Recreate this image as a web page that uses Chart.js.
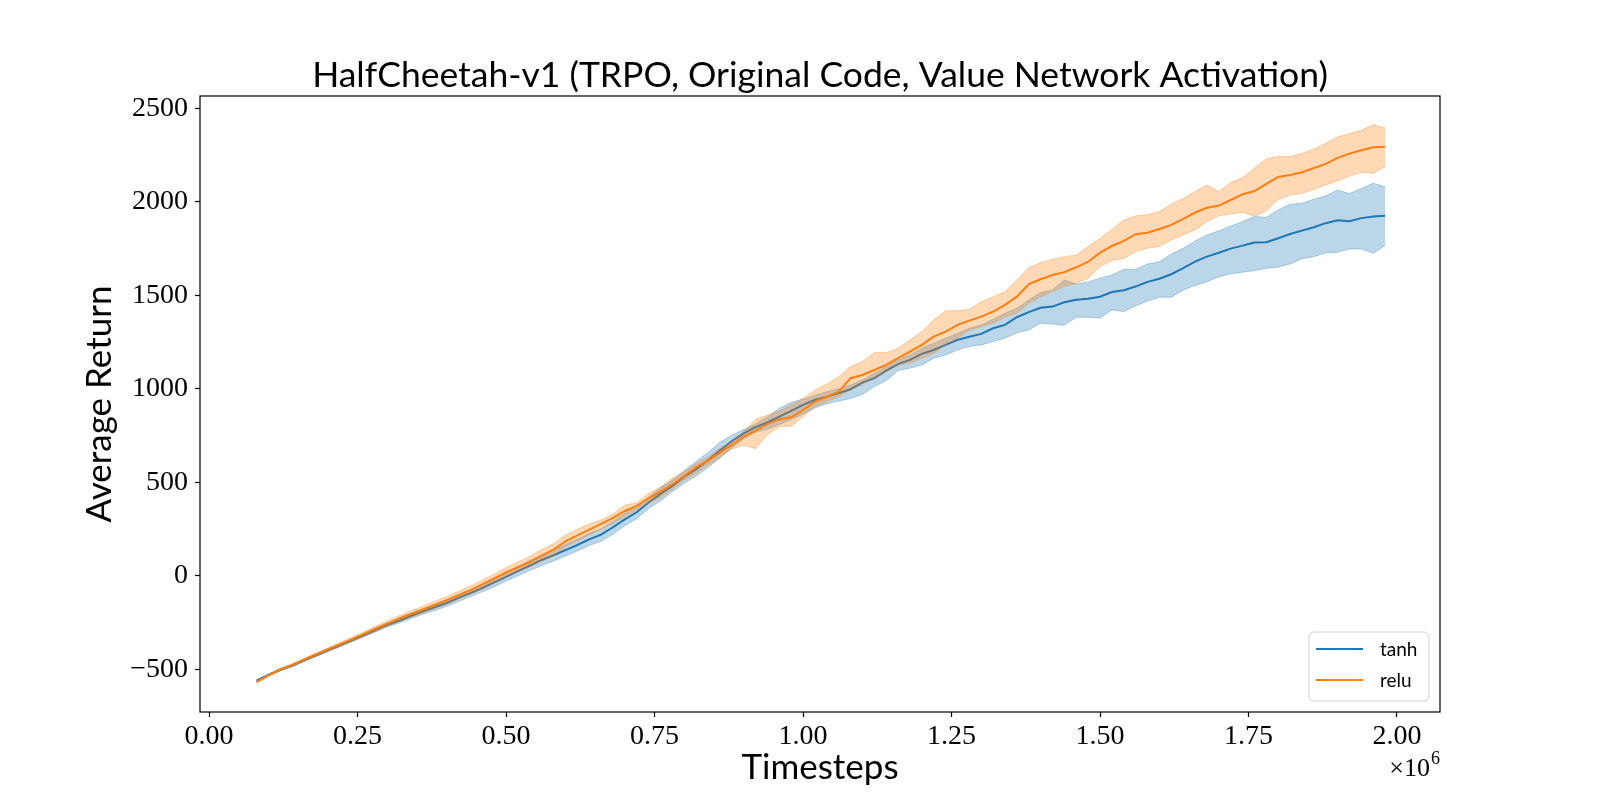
<!DOCTYPE html>
<html>
<head>
<meta charset="utf-8">
<title>HalfCheetah-v1 (TRPO, Original Code, Value Network Activation)</title>
<script src="https://cdn.jsdelivr.net/npm/chart.js@4.4.1/dist/chart.umd.min.js"></script>
<style>
  html, body { margin: 0; padding: 0; background: #fff; }
  #wrap { width: 1600px; height: 800px; }
</style>
</head>
<body>
<div id="wrap"><canvas id="chart" width="1600" height="800"></canvas></div>
<script>
// timesteps, in units of 1e6
const steps = [
  0.08, 0.10, 0.12, 0.14, 0.16, 0.18, 0.20, 0.22, 0.24, 0.26,
  0.28, 0.30, 0.32, 0.34, 0.36, 0.38, 0.40, 0.42, 0.44, 0.46,
  0.48, 0.50, 0.52, 0.54, 0.56, 0.58, 0.60, 0.62, 0.64, 0.66,
  0.68, 0.70, 0.72, 0.74, 0.76, 0.78, 0.80, 0.82, 0.84, 0.86,
  0.88, 0.90, 0.92, 0.94, 0.96, 0.98, 1.00, 1.02, 1.04, 1.06,
  1.08, 1.10, 1.12, 1.14, 1.16, 1.18, 1.20, 1.22, 1.24, 1.26,
  1.28, 1.30, 1.32, 1.34, 1.36, 1.38, 1.40, 1.42, 1.44, 1.46,
  1.48, 1.50, 1.52, 1.54, 1.56, 1.58, 1.60, 1.62, 1.64, 1.66,
  1.68, 1.70, 1.72, 1.74, 1.76, 1.78, 1.80, 1.82, 1.84, 1.86,
  1.88, 1.90, 1.92, 1.94, 1.96, 1.98
];

const tanhMean = [
  -560, -530, -502, -480, -452, -425, -398, -372, -345, -318,
  -290, -262, -240, -214, -190, -168, -145, -118, -92, -65,
  -35, -5, 25, 55, 85, 110, 138, 165, 195, 220,
  260, 302, 340, 392, 438, 481, 530, 570, 618, 670,
  720, 762, 795, 820, 852, 882, 914, 941, 958, 977,
  998, 1033, 1057, 1097, 1132, 1155, 1187, 1208, 1235, 1262,
  1279, 1294, 1324, 1342, 1383, 1410, 1434, 1440, 1463, 1476,
  1482, 1493, 1518, 1527, 1547, 1572, 1589, 1613, 1645, 1680,
  1707, 1728, 1750, 1766, 1782, 1784, 1805, 1828, 1846, 1864,
  1886, 1902, 1896, 1913, 1921, 1926
];
const tanhHigh = [
  -556, -525, -496, -473, -445, -418, -390, -364, -337, -309,
  -281, -252, -229, -201, -176, -152, -128, -100, -74, -46,
  -15, 16, 48, 82, 112, 138, 168, 196, 226, 252,
  292, 335, 375, 422, 472, 512, 563, 612, 660, 714,
  752, 782, 812, 850, 895, 928, 945, 965, 985, 1000,
  1020, 1048, 1083, 1119, 1155, 1181, 1217, 1244, 1271, 1297,
  1324, 1342, 1372, 1404, 1431, 1475, 1515, 1529, 1582, 1561,
  1572, 1592, 1609, 1640, 1640, 1668, 1680, 1721, 1752, 1791,
  1823, 1845, 1871, 1894, 1921, 1918, 1957, 1987, 1993, 2014,
  2032, 2064, 2044, 2072, 2100, 2081
];
const tanhLow = [
  -564, -535, -508, -487, -459, -432, -406, -380, -354, -327,
  -300, -273, -252, -228, -205, -185, -163, -137, -111, -85,
  -58, -28, 0, 28, 55, 80, 106, 133, 162, 185,
  222, 268, 306, 360, 402, 450, 495, 534, 580, 630,
  684, 732, 768, 785, 808, 836, 866, 898, 920, 935,
  948, 970, 1012, 1044, 1098, 1110, 1128, 1164, 1181, 1208,
  1226, 1235, 1253, 1271, 1300, 1315, 1351, 1347, 1340, 1383,
  1383, 1379, 1422, 1413, 1443, 1470, 1490, 1490, 1529, 1552,
  1573, 1600, 1615, 1624, 1632, 1645, 1650, 1668, 1696, 1707,
  1728, 1730, 1748, 1748, 1725, 1766
];

const reluMean = [
  -568, -532, -500, -476, -448, -420, -393, -366, -340, -312,
  -283, -255, -228, -204, -180, -155, -130, -103, -76, -45,
  -14, 18, 46, 74, 108, 140, 185, 217, 247, 278,
  310, 347, 374, 415, 450, 490, 534, 581, 616, 659,
  700, 744, 777, 813, 838, 848, 887, 932, 958, 985,
  1057, 1074, 1101, 1128, 1164, 1199, 1235, 1279, 1306, 1342,
  1365, 1386, 1413, 1449, 1493, 1560, 1586, 1609, 1624, 1650,
  1680, 1728, 1764, 1791, 1827, 1835, 1855, 1877, 1909, 1943,
  1968, 1980, 2010, 2041, 2058, 2096, 2133, 2144, 2158, 2181,
  2203, 2235, 2258, 2276, 2292, 2295
];
const reluHigh = [
  -563, -527, -494, -470, -441, -412, -384, -356, -329, -300,
  -270, -241, -213, -187, -162, -136, -110, -82, -54, -22,
  10, 45, 74, 105, 142, 172, 219, 249, 278, 299,
  332, 379, 391, 442, 474, 522, 557, 602, 634, 682,
  718, 771, 837, 860, 880, 914, 950, 994, 1026, 1065,
  1119, 1146, 1194, 1194, 1217, 1262, 1306, 1369, 1418, 1418,
  1426, 1466, 1493, 1520, 1582, 1648, 1675, 1693, 1707, 1716,
  1761, 1805, 1854, 1903, 1925, 1932, 1948, 1989, 2019, 2055,
  2090, 2055, 2103, 2130, 2180, 2231, 2242, 2242, 2260, 2283,
  2313, 2348, 2365, 2383, 2413, 2395
];
const reluLow = [
  -573, -537, -506, -482, -455, -428, -402, -376, -351, -324,
  -296, -269, -243, -221, -198, -174, -150, -124, -98, -68,
  -38, -6, 22, 48, 78, 108, 156, 188, 219, 249,
  281, 317, 352, 391, 420, 463, 513, 549, 593, 634,
  677, 700, 680, 755, 798, 800, 851, 905, 932, 958,
  994, 1026, 1057, 1092, 1128, 1137, 1164, 1190, 1235, 1271,
  1315, 1333, 1351, 1383, 1404, 1458, 1493, 1520, 1547, 1565,
  1592, 1654, 1686, 1696, 1734, 1752, 1761, 1796, 1823, 1850,
  1894, 1925, 1935, 1945, 1922, 1952, 2012, 2035, 2044, 2066,
  2091, 2111, 2138, 2158, 2153, 2188
];

const xTicks = [0, 0.25, 0.5, 0.75, 1.0, 1.25, 1.5, 1.75, 2.0];
const yTicks = [-500, 0, 500, 1000, 1500, 2000, 2500];

const BLUE = "#1f77b4";
const ORANGE = "#ff7f0e";
const SERIF = "'Liberation Serif', 'DejaVu Serif', serif";
const SANS = "Lato, 'Open Sans', 'DejaVu Sans', sans-serif";

const pts = arr => steps.map((t, i) => ({ x: t, y: arr[i] }));

function rgba(hex, a) {
  const n = parseInt(hex.slice(1), 16);
  return `rgba(${(n >> 16) & 255}, ${(n >> 8) & 255}, ${n & 255}, ${a})`;
}

function band(arr, color, fill) {
  return {
    data: pts(arr),
    borderColor: rgba(color, 0.3),
    borderWidth: 1,
    backgroundColor: rgba(color, 0.3),
    pointRadius: 0,
    fill: fill
  };
}

function meanLine(label, arr, color) {
  return {
    label: label,
    data: pts(arr),
    borderColor: color,
    borderWidth: 2,
    pointRadius: 0,
    fill: false
  };
}

// first dataset is drawn last (on top)
const datasets = [
  band(reluHigh, ORANGE, "+1"),
  band(reluLow, ORANGE, false),
  meanLine("relu", reluMean, ORANGE),
  band(tanhHigh, BLUE, "+1"),
  band(tanhLow, BLUE, false),
  meanLine("tanh", tanhMean, BLUE)
];

const decorations = {
  id: "decorations",
  afterDraw(chart) {
    const { ctx, chartArea: a } = chart;
    ctx.save();

    // axes frame
    ctx.strokeStyle = "#000";
    ctx.lineWidth = 1.2;
    ctx.strokeRect(a.left, a.top, a.right - a.left, a.bottom - a.top);

    // title and axis labels
    ctx.fillStyle = "#000";
    ctx.font = `35.5px ${SANS}`;
    ctx.textAlign = "center";
    ctx.textBaseline = "alphabetic";
    ctx.fillText("HalfCheetah-v1 (TRPO, Original Code, Value Network Activation)", (a.left + a.right) / 2, 87);
    ctx.font = `35px ${SANS}`;
    ctx.fillText("Timesteps", (a.left + a.right) / 2, 779);

    ctx.save();
    ctx.translate(111, (a.top + a.bottom) / 2);
    ctx.rotate(-Math.PI / 2);
    ctx.fillText("Average Return", 0, 0);
    ctx.restore();

    // offset text ×10^6
    ctx.textAlign = "right";
    ctx.font = `18px ${SERIF}`;
    const w6 = ctx.measureText("6").width;
    ctx.fillText("6", a.right, 764);
    ctx.font = `26px ${SERIF}`;
    ctx.fillText("\u00d710", a.right - w6 - 1, 776);

    // legend
    const lx = 1309, ly = 632, lw = 120, lh = 69;
    ctx.beginPath();
    ctx.roundRect(lx, ly, lw, lh, 5);
    ctx.fillStyle = "rgba(255,255,255,0.8)";
    ctx.fill();
    ctx.strokeStyle = "rgba(204,204,204,0.9)";
    ctx.lineWidth = 1;
    ctx.stroke();

    const entries = [["tanh", BLUE, 649], ["relu", ORANGE, 680]];
    ctx.font = `19px ${SANS}`;
    ctx.textAlign = "left";
    entries.forEach(([name, color, y]) => {
      ctx.beginPath();
      ctx.moveTo(1316, y);
      ctx.lineTo(1363, y);
      ctx.strokeStyle = color;
      ctx.lineWidth = 2;
      ctx.stroke();
      ctx.fillStyle = "#000";
      ctx.fillText(name, 1380, y + 7);
    });

    ctx.restore();
  }
};

new Chart(document.getElementById("chart"), {
  type: "line",
  data: { datasets: datasets },
  options: {
    responsive: false,
    devicePixelRatio: 1,
    animation: false,
    layout: { padding: { left: 0, right: 160, top: 96, bottom: 0 } },
    plugins: {
      legend: { display: false },
      title: { display: false },
      tooltip: { enabled: false }
    },
    elements: { line: { tension: 0 } },
    scales: {
      x: {
        type: "linear",
        min: -0.0152,
        max: 2.0724,
        afterFit: s => { s.height = 88; },
        afterBuildTicks: s => { s.ticks = xTicks.map(v => ({ value: v })); },
        ticks: {
          color: "#000",
          font: { family: SERIF, size: 28 },
          padding: 3,
          maxRotation: 0,
          callback: v => v.toFixed(2)
        },
        grid: { drawOnChartArea: false, color: "#000", tickLength: 5, tickWidth: 1.2 },
        border: { display: false }
      },
      y: {
        min: -728,
        max: 2566,
        afterFit: s => { s.width = 200; },
        afterBuildTicks: s => { s.ticks = yTicks.map(v => ({ value: v })); },
        ticks: {
          color: "#000",
          font: { family: SERIF, size: 28 },
          padding: 7,
          callback: v => (v < 0 ? "\u2212" + Math.abs(v) : String(v))
        },
        grid: { drawOnChartArea: false, color: "#000", tickLength: 5, tickWidth: 1.2 },
        border: { display: false }
      }
    }
  },
  plugins: [decorations]
});
</script>
</body>
</html>
